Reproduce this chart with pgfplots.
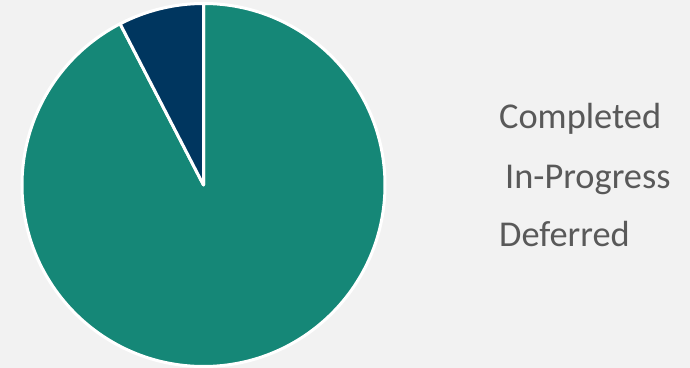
\documentclass[border=0pt]{standalone}
\usepackage{pgfplots}
\usepackage{pgfplotstable}
\pgfplotsset{compat=1.18}
\usepackage{fontspec}
\setmainfont{Carlito}
\definecolor{bgc}{HTML}{F2F2F2}
\definecolor{cteal}{HTML}{158777}
\definecolor{cnavy}{HTML}{00365F}
\definecolor{ctext}{HTML}{595959}
\pgfplotstableread{
status value
Completed 92.4
InProgress 0
Deferred 7.6
}\piedata
\begin{document}
\begin{tikzpicture}
\fill[bgc] (0,0) rectangle (690bp,368bp);
\begin{axis}[
  at={(0,0)}, anchor=south west,
  scale only axis, width=690bp, height=368bp,
  xmin=0, xmax=690, ymin=0, ymax=368,
  hide axis, clip=false]
\pgfplotstablegetelem{0}{value}\of\piedata \let\vA\pgfplotsretval
\pgfplotstablegetelem{2}{value}\of\piedata \let\vC\pgfplotsretval
\pgfmathsetmacro{\aA}{90-3.6*\vA}
\pgfmathsetmacro{\aC}{\aA-3.6*\vC}
\filldraw[fill=cteal, draw=white, line width=3bp, line join=round]
  (axis cs:203.5,183) -- ++(90:181.5bp) arc[start angle=90, end angle=\aA, radius=181.5bp] -- cycle;
\filldraw[fill=cnavy, draw=white, line width=3bp, line join=round]
  (axis cs:203.5,183) -- ++(\aA:181.5bp) arc[start angle=\aA, end angle=\aC, radius=181.5bp] -- cycle;
\begin{scope}[every node/.style={text=ctext, inner sep=0pt, anchor=base west, font=\fontsize{36.5}{44}\selectfont}]
\node at (axis cs:499,239) {Completed};
\node at (axis cs:505,179) {In-Progress};
\node at (axis cs:499,121.5) {Deferred};
\end{scope}
\end{axis}
\end{tikzpicture}
\end{document}
